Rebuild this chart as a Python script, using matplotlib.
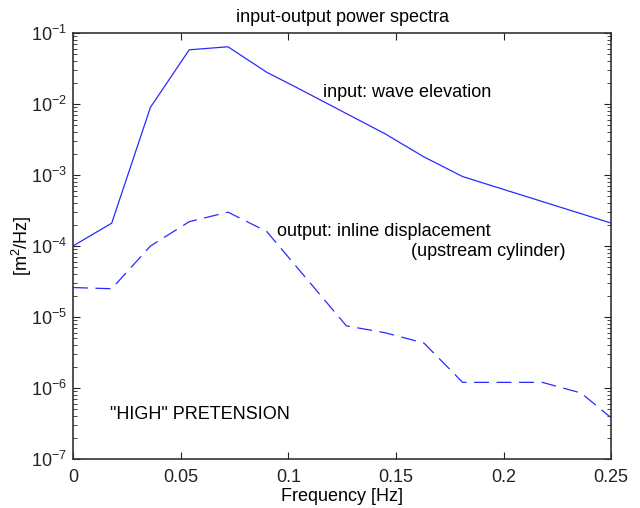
import matplotlib
matplotlib.use("Agg")
import matplotlib.pyplot as plt
from matplotlib.ticker import LogLocator, NullFormatter

# frequency points
freq_in = [0.0, 0.018, 0.036, 0.054, 0.072, 0.090, 0.104, 0.145, 0.163, 0.181, 0.25]
spec_in = [1.0e-4, 2.1e-4, 9.0e-3, 5.8e-2, 6.4e-2, 2.8e-2, 1.7e-2, 3.8e-3, 1.8e-3, 9.5e-4, 2.1e-4]

freq_out = [0.0, 0.018, 0.036, 0.054, 0.072, 0.090, 0.127, 0.145, 0.163, 0.181, 0.199, 0.218, 0.236, 0.25]
spec_out = [2.6e-5, 2.5e-5, 1.0e-4, 2.2e-4, 3.0e-4, 1.6e-4, 7.5e-6, 6.0e-6, 4.3e-6, 1.2e-6, 1.2e-6, 1.2e-6, 8.5e-7, 3.8e-7]

xticks = [0, 0.05, 0.1, 0.15, 0.2, 0.25]
xticklabels = ["0", "0.05", "0.1", "0.15", "0.2", "0.25"]

fam = 'Liberation Sans'
fs = 13

plt.rcParams['font.family'] = [fam, 'DejaVu Sans']
plt.rcParams['mathtext.fontset'] = 'custom'
plt.rcParams['mathtext.rm'] = fam
plt.rcParams['mathtext.it'] = fam
plt.rcParams['mathtext.default'] = 'regular'

fig = plt.figure(figsize=(6.4, 5.08), dpi=100)
ax = fig.add_axes([0.114, 0.0965, 0.841, 0.8385])

line_col = '#2a2aff'
ax.semilogy(freq_in, spec_in, color=line_col, lw=0.9)
ax.semilogy(freq_out, spec_out, color=line_col, lw=0.9, dashes=(12, 6))

ax.set_xlim(0, 0.25)
ax.set_ylim(1e-7, 1e-1)
ax.set_xticks(xticks)
ax.set_xticklabels(xticklabels)
ax.yaxis.set_major_locator(LogLocator(base=10, numticks=10))
ax.yaxis.set_minor_locator(LogLocator(base=10, subs=range(2, 10), numticks=20))
ax.yaxis.set_minor_formatter(NullFormatter())

ax.tick_params(which='both', direction='in', top=True, right=True, labelsize=fs, colors='#222222')
ax.tick_params(which='major', length=5)
ax.tick_params(axis='x', which='major', pad=7)
ax.tick_params(axis='y', which='major', pad=4)
ax.tick_params(which='minor', length=3)
for s in ax.spines.values():
    s.set_linewidth(1.2)
    s.set_color('#333333')

ax.set_title('input-output power spectra', fontsize=fs, pad=8)
ax.set_xlabel('Frequency [Hz]', fontsize=fs, labelpad=2)
ax.set_ylabel('[m$^2$/Hz]', fontsize=fs)
ax.yaxis.set_label_coords(-0.073, 0.5)

ax.text(0.116, 1.45e-2, 'input: wave elevation', fontsize=fs, va='center')
ax.text(0.095, 1.6e-4, 'output: inline displacement', fontsize=fs, va='center')
ax.text(0.193, 8.5e-5, '(upstream cylinder)', fontsize=fs, va='center', ha='center')
ax.text(0.017, 4.3e-7, '"HIGH" PRETENSION', fontsize=fs, va='center')

fig.savefig('out.png', dpi=100)
